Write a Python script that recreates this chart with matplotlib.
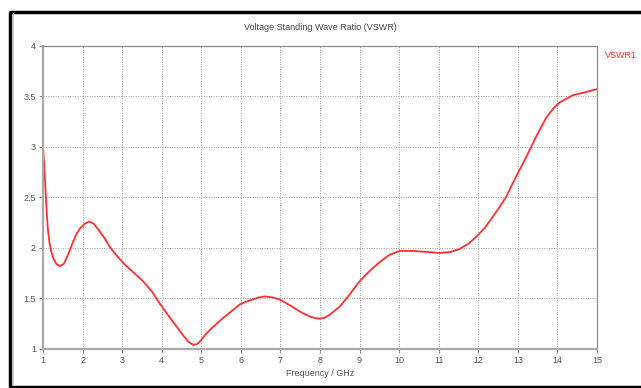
import matplotlib.pyplot as plt
from matplotlib.lines import Line2D
from matplotlib.ticker import FormatStrFormatter

# VSWR readings over frequency
freq_ghz = [1.00, 1.03, 1.06, 1.09, 1.12, 1.16, 1.21, 1.27, 1.34, 1.43,
            1.52, 1.60, 1.68, 1.76, 1.85, 1.95, 2.06, 2.17, 2.28, 2.40,
            2.55, 2.69, 2.85, 3.03, 3.25, 3.53, 3.75, 3.95, 4.15, 4.38,
            4.55, 4.68, 4.80, 4.90, 5.00, 5.10, 5.22, 5.50, 5.75, 5.97,
            6.15, 6.30, 6.45, 6.61, 6.80, 6.98, 7.25, 7.49, 7.75, 7.88,
            8.00, 8.12, 8.25, 8.50, 8.75, 9.00, 9.25, 9.51, 9.75, 10.01,
            10.35, 10.70, 11.03, 11.30, 11.53, 11.75, 11.95, 12.17, 12.37, 12.55,
            12.71, 12.96, 13.15, 13.30, 13.50, 13.72, 13.90, 14.06, 14.25, 14.39,
            14.70, 15.00]
vswr = [3.00, 2.82, 2.60, 2.38, 2.20, 2.06, 1.96, 1.89, 1.84, 1.82,
        1.84, 1.90, 1.98, 2.06, 2.14, 2.20, 2.24, 2.26, 2.24, 2.18,
        2.10, 2.01, 1.93, 1.85, 1.77, 1.67, 1.57, 1.45, 1.34, 1.22,
        1.13, 1.07, 1.04, 1.05, 1.09, 1.14, 1.19, 1.29, 1.37, 1.44,
        1.47, 1.49, 1.51, 1.52, 1.51, 1.49, 1.43, 1.37, 1.32, 1.305,
        1.30, 1.31, 1.34, 1.42, 1.54, 1.67, 1.77, 1.86, 1.93, 1.97,
        1.97, 1.96, 1.95, 1.96, 1.99, 2.04, 2.11, 2.20, 2.31, 2.41,
        2.51, 2.71, 2.85, 2.97, 3.13, 3.29, 3.38, 3.44, 3.48, 3.51,
        3.54, 3.57]
x_ticks = list(range(1, 16))
y_ticks = [1, 1.5, 2, 2.5, 3, 3.5, 4]

plt.rcParams['font.family'] = ['Liberation Sans', 'DejaVu Sans']

W, H = 641, 388
fig = plt.figure(figsize=(W / 100, H / 100), dpi=100)
ax = fig.add_axes([43 / W, 1 - 349 / H, (597 - 43) / W, (349 - 45.7) / H])

ax.plot(freq_ghz, vswr, color='#ff3030', lw=1.3,
        solid_joinstyle='round', solid_capstyle='round')

ax.set_xlim(1, 15)
ax.set_ylim(1, 4)
ax.set_xticks(x_ticks)
ax.set_yticks(y_ticks)
ax.yaxis.set_major_formatter(FormatStrFormatter('%g'))
ax.grid(True, color='#a0a0a0', lw=0.7, linestyle=(0, (1, 1.5)))
ax.tick_params(colors='#8a8a8a', labelcolor='#555555', labelsize=6.5,
               length=3, width=0.8, pad=2)

for side in ('left', 'bottom'):
    ax.spines[side].set_color('#a8a8a8')
    ax.spines[side].set_linewidth(1.6)
for side in ('top', 'right'):
    ax.spines[side].set_color('#8c8c8c')
    ax.spines[side].set_linewidth(0.9)

ax.set_xlabel('Frequency / GHz', fontsize=6.5, color='#555555', labelpad=3)
ax.set_title('Voltage Standing Wave Ratio (VSWR)', fontsize=6.5,
             color='#444444', pad=11)
fig.text(605 / W, 1 - 55 / H, 'VSWR1', color='#ff3030', fontsize=6.5,
         va='center', ha='left')

# black panel frame on the left, top and bottom
frame = dict(color='black', lw=2.5, transform=fig.transFigure,
             solid_capstyle='butt')
fig.add_artist(Line2D([10 / W, 10 / W], [1 - 11.5 / H, 1 - 386.5 / H], **frame))
fig.add_artist(Line2D([8.8 / W, 1], [1 - 11.5 / H, 1 - 11.5 / H], **frame))
fig.add_artist(Line2D([8.8 / W, 1], [1 - 386.5 / H, 1 - 386.5 / H], **frame))
fig.add_artist(Line2D([13 / W, 13 / W], [1 - 13 / H, 1 - 385 / H],
                      color='#c8c8c8', lw=0.8, transform=fig.transFigure))

fig.savefig('out.png', dpi=100)
